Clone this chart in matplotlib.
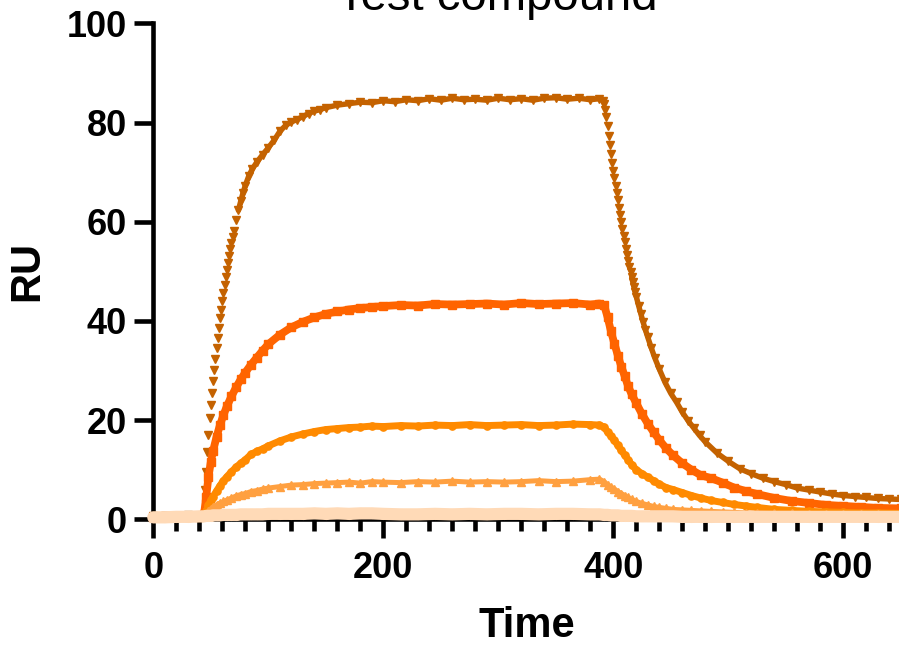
import numpy as np
import matplotlib
matplotlib.use("Agg")
import matplotlib.pyplot as plt
from matplotlib.ticker import MultipleLocator

# --- data (time in s, response in RU) ---
t_top = [0, 10, 20, 30, 40, 44, 45, 46, 47, 48, 49, 50, 51, 52, 53, 54, 55, 56, 57, 58,
         59, 60, 61, 62, 63, 64, 65, 66, 67, 68, 69, 70, 72, 74, 76, 78, 80, 83, 86, 90,
         95, 100, 105, 110, 115, 120, 125, 130, 135, 140, 145, 150, 160, 170, 180, 190, 200, 210, 220, 230,
         240, 250, 260, 270, 280, 290, 300, 310, 320, 330, 340, 350, 360, 370, 380, 388, 391, 392, 393, 394,
         395, 396, 397, 398, 399, 400, 401, 402, 403, 404, 405, 406, 407, 408, 409, 410, 411, 412, 413, 414,
         415, 416, 417, 418, 419, 420, 422, 424, 426, 428, 430, 433, 436, 440, 445, 450, 455, 460, 465, 470,
         475, 480, 490, 500, 510, 520, 530, 540, 550, 560, 570, 580, 590, 600, 610, 620, 630, 640, 650]
ru_top = [0.6, 0.7, 0.6, 0.8, 0.7, 1.0, 5.9, 9.6, 13.6, 17.0, 20.4, 23.0, 25.4, 27.8, 30.1, 32.4, 34.5, 36.6, 38.6, 40.5,
          42.3, 44.0, 45.7, 47.3, 48.8, 50.3, 51.7, 53.1, 54.4, 55.7, 56.9, 58.1, 60.3, 62.3, 64.1, 65.8, 67.3, 69.2, 70.6, 72.0,
          73.5, 74.9, 76.4, 78.2, 79.4, 80.1, 80.6, 81.2, 81.8, 82.3, 82.6, 83.0, 83.5, 83.8, 84.1, 84.0, 84.4, 84.2, 84.6, 84.4,
          84.8, 84.5, 84.9, 84.6, 84.7, 84.5, 84.9, 84.6, 84.8, 84.5, 84.9, 85.0, 84.7, 84.9, 84.6, 84.8, 84.4, 83.8, 82.6, 81.2,
          79.2, 77.3, 75.4, 73.6, 71.9, 70.3, 68.8, 67.3, 65.8, 64.3, 62.8, 61.3, 59.9, 58.5, 57.2, 55.9, 54.6, 53.3, 52.0, 50.9,
          49.8, 48.8, 47.8, 46.8, 45.8, 44.9, 43.1, 41.4, 39.7, 38.2, 36.7, 34.6, 32.6, 30.3, 27.6, 25.4, 23.6, 21.6, 19.9, 18.4,
          16.9, 15.6, 13.4, 11.7, 10.2, 9.2, 8.3, 7.6, 7.0, 6.3, 5.9, 5.5, 5.1, 4.8, 4.6, 4.4, 4.2, 4.1, 4.0]

t_low = [0, 10, 20, 30, 40, 44, 46, 48, 50, 52, 55, 58, 61, 64, 68, 72, 76, 80, 85, 90,
         95, 100, 110, 120, 130, 140, 150, 160, 170, 180, 190, 200, 215, 230, 245, 260, 275, 290, 305, 320,
         335, 350, 365, 380, 388, 392, 395, 398, 401, 404, 407, 410, 413, 416, 420, 425, 430, 435, 440, 446,
         452, 460, 468, 476, 485, 495, 505, 515, 525, 540, 555, 570, 585, 600, 615, 630, 650]
ru_2 = [0.5, 0.6, 0.5, 0.7, 0.6, 0.8, 4.5, 8.6, 11.5, 13.8, 16.6, 19.0, 21.0, 22.8, 24.8, 26.6, 28.2, 29.6, 31.2, 32.6,
        34.0, 35.3, 37.2, 38.7, 39.8, 40.7, 41.4, 41.9, 42.3, 42.6, 42.8, 43.0, 43.2, 43.1, 43.4, 43.3, 43.4, 43.5, 43.3, 43.6,
        43.4, 43.5, 43.6, 43.3, 43.5, 43.2, 40.8, 37.9, 35.4, 33.0, 30.8, 28.8, 26.8, 25.2, 23.4, 21.2, 19.3, 17.6, 16.0, 14.3,
        12.9, 11.3, 10.0, 8.9, 8.3, 7.4, 6.4, 5.7, 5.1, 4.3, 3.7, 3.3, 2.9, 2.7, 2.5, 2.3, 2.2]
ru_3 = [0.5, 0.5, 0.6, 0.5, 0.6, 0.6, 1.6, 2.8, 3.8, 4.6, 5.7, 6.8, 7.8, 8.6, 9.6, 10.5, 11.3, 12.0, 13.1, 13.7,
        14.2, 14.8, 15.8, 16.6, 17.2, 17.7, 18.1, 18.3, 18.5, 18.6, 18.8, 18.7, 18.9, 18.8, 19.0, 18.9, 19.1, 18.9, 19.0, 19.1,
        18.9, 19.0, 19.2, 19.1, 19.0, 18.6, 17.6, 16.8, 15.9, 14.9, 13.9, 12.9, 12.0, 11.0, 10.0, 9.2, 8.5, 7.8, 7.1, 6.4,
        6.0, 5.4, 4.8, 4.3, 3.8, 3.4, 3.0, 2.7, 2.4, 2.0, 1.8, 1.6, 1.5, 1.4, 1.3, 1.3, 1.2]
ru_4 = [0.5, 0.5, 0.5, 0.6, 0.5, 0.6, 1.0, 1.6, 2.1, 2.5, 2.9, 3.3, 3.6, 3.9, 4.3, 4.7, 5.0, 5.2, 5.6, 5.8,
        6.1, 6.3, 6.6, 6.9, 7.0, 7.2, 7.3, 7.4, 7.5, 7.3, 7.6, 7.5, 7.4, 7.6, 7.5, 7.7, 7.5, 7.6, 7.5, 7.6,
        7.8, 7.6, 7.7, 8.0, 8.1, 7.6, 7.0, 6.5, 6.1, 5.6, 5.2, 4.8, 4.4, 4.0, 3.6, 3.2, 2.9, 2.6, 2.4, 2.2,
        2.0, 1.9, 1.8, 1.7, 1.6, 1.5, 1.4, 1.3, 1.3, 1.2, 1.2, 1.1, 1.1, 1.1, 1.0, 1.0, 1.0]
ru_5 = [0.4, 0.4, 0.5, 0.5, 0.6, 0.6, 0.7, 0.7, 0.7, 0.8, 0.8, 0.8, 0.9, 0.9, 0.9, 0.9, 1.0, 1.0, 1.0, 1.0,
        1.0, 1.1, 1.1, 1.1, 1.1, 1.2, 1.1, 1.2, 1.1, 1.2, 1.2, 1.1, 1.0, 1.0, 1.1, 1.0, 1.1, 1.0, 1.1, 1.1,
        1.0, 1.1, 1.1, 1.0, 1.0, 0.9, 0.9, 0.8, 0.8, 0.8, 0.7, 0.7, 0.7, 0.7, 0.6, 0.6, 0.6, 0.6, 0.6, 0.6,
        0.6, 0.5, 0.5, 0.5, 0.5, 0.5, 0.5, 0.5, 0.5, 0.5, 0.5, 0.5, 0.5, 0.5, 0.5, 0.5, 0.5]

plt.rcParams['font.family'] = ['Liberation Sans', 'DejaVu Sans']

fig = plt.figure(figsize=(8.99, 6.46), dpi=100)
ax = fig.add_axes([0.1705, 0.1961, 0.8315, 0.7678])


def draw(t, y, color, marker, ms, lw, z, steep=None):
    t = np.asarray(t, float)
    y = np.asarray(y, float)
    yl = y.copy()
    if steep is not None:
        # in the steep parts only the separate markers are visible
        yl[np.abs(np.gradient(y, t)) > steep] = np.nan
    ax.plot(t, yl, color=color, lw=lw, solid_capstyle='round', zorder=z, clip_on=False)
    ax.plot(t, y, ls='none', marker=marker, ms=ms, color=color, mec=color, zorder=z, clip_on=False)


draw(t_top, ru_top, '#C46200', 'v', 5.2, 3.9, 3, steep=1.0)
draw(t_low, ru_2, '#FF6400', 's', 5.4, 5.6, 4)
draw(t_low, ru_3, '#FF8A00', 'o', 5.2, 5.0, 5)
draw(t_low, ru_4, '#FFA040', '^', 5.2, 3.6, 6)
draw(t_low, ru_5, '#FFDAB7', 'o', 7.0, 8.8, 7)

ax.set_xlim(0, 650)
ax.set_ylim(0, 100)
ax.xaxis.set_major_locator(MultipleLocator(200))
ax.xaxis.set_minor_locator(MultipleLocator(20))
ax.yaxis.set_major_locator(MultipleLocator(20))

for side in ['top', 'right']:
    ax.spines[side].set_visible(False)
for side in ['left', 'bottom']:
    ax.spines[side].set_linewidth(3.3)
    ax.spines[side].set_zorder(1)

ax.tick_params(axis='both', which='major', width=3.3, length=14, labelsize=26, pad=5)
ax.tick_params(axis='x', which='major', pad=9)
ax.tick_params(axis='x', which='minor', width=3.3, length=8.5)
for lab in ax.get_xticklabels() + ax.get_yticklabels():
    lab.set_fontweight('bold')

ax.set_xlabel('Time', fontsize=30, fontweight='bold', labelpad=14)
ax.set_ylabel('RU', fontsize=30, fontweight='bold', labelpad=14)

fig.text(0.553, 0.985, 'Test compound', fontsize=34, ha='center', va='baseline')

fig.savefig('out.png', dpi=100)
